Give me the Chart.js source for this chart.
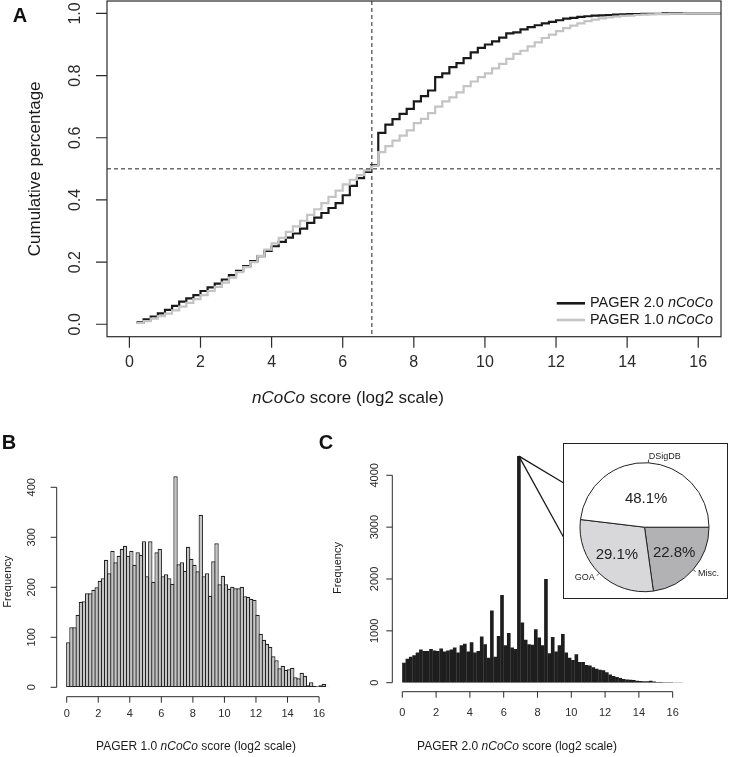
<!DOCTYPE html>
<html>
<head>
<meta charset="utf-8">
<script src="https://cdn.jsdelivr.net/npm/chart.js@4.4.1/dist/chart.umd.min.js"></script>
<style>
  html, body { margin: 0; padding: 0; background: #fff; }
  #wrap { position: relative; width: 729px; height: 757px; overflow: hidden; }
  canvas { position: absolute; }
  #inset { position: absolute; left: 563px; top: 443px; width: 163px; height: 154px; border: 1.5px solid #222; background: #fff; }
  #inset canvas { left: 0; top: 0; }
</style>
</head>
<body>
<div id="wrap">
  <canvas id="chartA" width="729" height="415" style="left:0;top:0"></canvas>
  <canvas id="chartB" width="340" height="342" style="left:0;top:415px"></canvas>
  <canvas id="chartC" width="419" height="342" style="left:310px;top:415px"></canvas>
  <div id="inset"><canvas id="chartPie" width="163" height="154"></canvas></div>
</div>
<script>
// ---- data ----

// panel A: cumulative share, step starts (log2 nCoCo score)
const ecdfX = [0.2,0.4,0.6,0.8,1.0,1.2,1.4,1.6,1.8,2.0,2.2,2.4,2.6,2.8,3.0,3.2,3.4,3.6,3.8,4.0,
  4.2,4.4,4.6,4.8,5.0,5.2,5.4,5.6,5.8,6.0,6.2,6.4,6.6,6.8,7.0,7.2,7.4,7.6,7.8,8.0,
  8.2,8.4,8.6,8.8,9.0,9.2,9.4,9.6,9.8,10.0,10.2,10.4,10.6,10.8,11.0,11.2,11.4,11.6,11.8,12.0,
  12.2,12.4,12.6,12.8,13.0,13.2,13.4,13.6,13.8,14.0,14.2,14.4,14.6,14.8,15.0,15.2,15.4,15.6,15.8,16.0,
  16.2,16.4,17.0];
const pager2Cum = [0.006,0.016,0.025,0.035,0.046,0.059,0.073,0.083,0.094,0.107,
  0.119,0.131,0.144,0.158,0.172,0.187,0.203,0.219,0.236,0.251,
  0.265,0.279,0.292,0.308,0.326,0.343,0.358,0.374,0.39,0.415,
  0.445,0.47,0.49,0.512,0.616,0.642,0.66,0.677,0.693,0.717,
  0.734,0.752,0.795,0.807,0.827,0.84,0.856,0.875,0.889,0.9,
  0.91,0.922,0.936,0.939,0.949,0.956,0.962,0.968,0.973,0.978,
  0.983,0.986,0.989,0.991,0.993,0.994,0.995,0.996,0.997,0.998,
  0.998,0.999,0.999,0.999,1,1,1,1,1,1,
  1,1,1];
const pager1Cum = [0.004,0.01,0.018,0.026,0.034,0.045,0.057,0.069,0.081,0.094,
  0.107,0.12,0.134,0.15,0.168,0.184,0.2,0.22,0.24,0.26,
  0.278,0.297,0.315,0.333,0.352,0.37,0.39,0.41,0.43,0.45,
  0.465,0.48,0.495,0.51,0.554,0.573,0.591,0.607,0.624,0.647,
  0.661,0.679,0.70,0.717,0.73,0.746,0.766,0.781,0.795,0.807,
  0.823,0.838,0.854,0.87,0.88,0.894,0.907,0.921,0.932,0.943,
  0.953,0.961,0.968,0.975,0.98,0.984,0.987,0.99,0.992,0.993,
  0.995,0.996,0.997,0.998,0.998,0.999,0.999,1,1,1,
  1,1,1];
const medianScore = 6.82;
const medianCum = 0.5;
const seriesNames = ['PAGER 2.0', 'PAGER 1.0'];

// panels B and C: histogram bins (left edges), width 0.2
const BIN = 0.2;
const binLeft = [0,0.2,0.4,0.6,0.8,1.0,1.2,1.4,1.6,1.8,2.0,2.2,2.4,2.6,2.8,3.0,3.2,3.4,3.6,3.8,
  4.0,4.2,4.4,4.6,4.8,5.0,5.2,5.4,5.6,5.8,6.0,6.2,6.4,6.6,6.8,7.0,7.2,7.4,7.6,7.8,
  8.0,8.2,8.4,8.6,8.8,9.0,9.2,9.4,9.6,9.8,10.0,10.2,10.4,10.6,10.8,11.0,11.2,11.4,11.6,11.8,
  12.0,12.2,12.4,12.6,12.8,13.0,13.2,13.4,13.6,13.8,14.0,14.2,14.4,14.6,14.8,15.0,15.2,15.4,15.6,15.8,
  16.0,16.2,16.4];
const pager1Hist = [90,120,120,145,171,172,188,188,195,200,
  213,218,255,228,273,250,263,277,283,263,
  273,245,270,265,292,222,292,211,270,277,
  222,226,218,207,422,246,250,233,281,257,
  245,232,345,222,228,183,252,288,206,223,
  206,197,201,198,198,201,182,181,177,175,
  145,107,95,87,81,62,54,38,43,35,
  36,39,20,18,29,23,4,10,3,2,
  4,7,1];
const pager2Hist = [385,460,500,530,580,640,610,610,650,620,
  610,660,600,620,640,680,580,720,750,600,
  780,580,610,890,740,480,1390,500,900,1690,
  720,960,680,650,4370,1160,830,740,730,1030,
  870,720,2000,570,880,600,720,940,580,480,
  440,550,400,400,340,330,300,270,250,240,
  200,160,130,110,90,70,60,55,50,40,
  35,30,30,40,25,15,15,10,10,8,
  5,3,2];

// inset pie for the 6.8-7.0 bin (clockwise from 3 o'clock, as drawn)
const pieLabels = ['Misc.', 'GOA', 'DSigDB'];
const pieShares = [22.8, 29.1, 48.1];

// tick values
const scoreTicks = [0,2,4,6,8,10,12,14,16];
const cumTicks = [0,0.2,0.4,0.6,0.8,1.0];
const freqTicksB = [0,100,200,300,400];
const freqTicksC = [0,1000,2000,3000,4000];

// ---- drawing helpers ----
const FONT = '"Liberation Sans", Arial, Helvetica, sans-serif';
const INK = '#2b2b2b';
Chart.defaults.font.family = FONT;

function drawParts(ctx, parts, x, y, size, align) {
  let w = 0;
  parts.forEach(p => { ctx.font = (p[1] ? 'italic ' : '') + size + 'px ' + FONT; w += ctx.measureText(p[0]).width; });
  let cx = align === 'center' ? x - w / 2 : (align === 'right' ? x - w : x);
  ctx.textAlign = 'left';
  ctx.textBaseline = 'middle';
  parts.forEach(p => {
    ctx.font = (p[1] ? 'italic ' : '') + size + 'px ' + FONT;
    ctx.fillText(p[0], cx, y);
    cx += ctx.measureText(p[0]).width;
  });
}

function drawVertical(ctx, text, x, y, font) {
  ctx.save();
  ctx.translate(x, y);
  ctx.rotate(-Math.PI / 2);
  ctx.font = font;
  ctx.textAlign = 'center';
  ctx.textBaseline = 'middle';
  ctx.fillText(text, 0, 0);
  ctx.restore();
}

// R-style axes: line only between first and last tick, ticks outside
function rAxes(chart, a) {
  const ctx = chart.ctx, xs = chart.scales.x, ys = chart.scales.y;
  ctx.save();
  ctx.strokeStyle = INK;
  ctx.fillStyle = INK;
  ctx.lineWidth = a.lw;
  ctx.beginPath();
  if (a.lines) {
    ctx.moveTo(xs.getPixelForValue(a.xTicks[0]), a.xAxisY);
    ctx.lineTo(xs.getPixelForValue(a.xTicks[a.xTicks.length - 1]), a.xAxisY);
    ctx.moveTo(a.yAxisX, ys.getPixelForValue(a.yTicks[0]));
    ctx.lineTo(a.yAxisX, ys.getPixelForValue(a.yTicks[a.yTicks.length - 1]));
  }
  a.xTicks.forEach(v => {
    const p = xs.getPixelForValue(v);
    ctx.moveTo(p, a.xAxisY);
    ctx.lineTo(p, a.xAxisY + a.tick);
  });
  a.yTicks.forEach(v => {
    const p = ys.getPixelForValue(v);
    ctx.moveTo(a.yAxisX, p);
    ctx.lineTo(a.yAxisX - a.tick, p);
  });
  ctx.stroke();
  const font = a.size + 'px ' + FONT;
  ctx.font = font;
  ctx.textAlign = 'center';
  ctx.textBaseline = 'middle';
  a.xTicks.forEach(v => ctx.fillText(String(v), xs.getPixelForValue(v), a.xLabelY));
  a.yTicks.forEach(v => drawVertical(ctx, a.yFormat(v), a.yLabelX, ys.getPixelForValue(v), font));
  ctx.restore();
}

function panelLetter(ctx, letter, x, y) {
  ctx.save();
  ctx.fillStyle = '#111';
  ctx.font = 'bold 20px ' + FONT;
  ctx.textAlign = 'center';
  ctx.textBaseline = 'middle';
  ctx.fillText(letter, x, y);
  ctx.restore();
}

const baseOptions = {
  responsive: false,
  animation: false,
  devicePixelRatio: 1,
  events: [],
  plugins: { legend: { display: false }, tooltip: { enabled: false } }
};

// ---- panel A ----
const panelA = {
  id: 'panelA',
  afterDraw(chart) {
    const ctx = chart.ctx, area = chart.chartArea, xs = chart.scales.x, ys = chart.scales.y;
    ctx.save();
    // median guides
    ctx.strokeStyle = '#222';
    ctx.lineWidth = 1;
    ctx.setLineDash([4, 3]);
    ctx.beginPath();
    const my = ys.getPixelForValue(medianCum), mx = xs.getPixelForValue(medianScore);
    ctx.moveTo(area.left, my); ctx.lineTo(area.right, my);
    ctx.moveTo(mx, area.top); ctx.lineTo(mx, area.bottom);
    ctx.stroke();
    ctx.setLineDash([]);
    // box
    ctx.strokeStyle = INK;
    ctx.lineWidth = 1.2;
    ctx.strokeRect(area.left, area.top, area.width, area.height);
    ctx.restore();

    rAxes(chart, {
      lines: false, lw: 1.2, tick: 11, size: 16,
      xTicks: scoreTicks, yTicks: cumTicks, yFormat: v => v.toFixed(1),
      xAxisY: area.bottom, yAxisX: area.left, xLabelY: 362.7, yLabelX: 76
    });

    ctx.save();
    ctx.fillStyle = '#1a1a1a';
    drawVertical(ctx, 'Cumulative percentage', 35, (area.top + area.bottom) / 2, '17px ' + FONT);
    drawParts(ctx, [['nCoCo', true], [' score (log2 scale)', false]], 348, 398, 17, 'center');

    // legend
    const ly = [303.3, 320];
    chart.data.datasets.forEach((ds, i) => {
      ctx.strokeStyle = ds.borderColor;
      ctx.lineWidth = 2.6;
      ctx.beginPath();
      ctx.moveTo(556.7, ly[i]); ctx.lineTo(585, ly[i]);
      ctx.stroke();
      ctx.fillStyle = '#1a1a1a';
      drawParts(ctx, [[ds.label + ' ', false], ['nCoCo', true]], 590, ly[i], 14.5, 'left');
    });
    ctx.restore();
    panelLetter(ctx, 'A', 20, 16);
  }
};

new Chart(document.getElementById('chartA'), {
  type: 'line',
  data: {
    datasets: [
      { label: seriesNames[0], data: ecdfX.map((x, i) => ({ x, y: pager2Cum[i] })),
        borderColor: '#1a1a1a', borderWidth: 2.2, stepped: true, pointRadius: 0, order: 1, clip: 0 },
      { label: seriesNames[1], data: ecdfX.map((x, i) => ({ x, y: pager1Cum[i] })),
        borderColor: '#c4c4c4', borderWidth: 2.2, stepped: true, pointRadius: 0, order: 0, clip: 0 }
    ]
  },
  options: Object.assign({}, baseOptions, {
    layout: { padding: { left: 107, top: 1, right: 8, bottom: 78.3 } },
    scales: {
      x: { type: 'linear', display: false, min: -0.63, max: 16.64 },
      y: { type: 'linear', display: false, min: -0.04, max: 1.04 }
    }
  }),
  plugins: [panelA]
});

// ---- panel B ----
const panelB = {
  id: 'panelB',
  afterDraw(chart) {
    const ctx = chart.ctx;
    rAxes(chart, {
      lines: true, lw: 1, tick: 6, size: 11,
      xTicks: scoreTicks, yTicks: freqTicksB, yFormat: v => String(v),
      xAxisY: 281.7, yAxisX: 56.7, xLabelY: 299, yLabelX: 31.7
    });
    ctx.save();
    ctx.fillStyle = '#1a1a1a';
    drawVertical(ctx, 'Frequency', 8, 166.7, '11px ' + FONT);
    drawParts(ctx, [['PAGER 1.0 ', false], ['nCoCo', true], [' score (log2 scale)', false]], 196, 331.7, 12, 'center');
    ctx.restore();
    panelLetter(ctx, 'B', 9, 28);
  }
};

new Chart(document.getElementById('chartB'), {
  type: 'bar',
  data: {
    datasets: [{
      data: binLeft.map((b, i) => ({ x: b + BIN / 2, y: pager1Hist[i] })),
      backgroundColor: '#c4c4c4', borderColor: '#222', borderWidth: 1.2, borderSkipped: false,
      barPercentage: 1.38, categoryPercentage: 1
    }]
  },
  options: Object.assign({}, baseOptions, {
    layout: { padding: { left: 56.7, top: 40, right: 5, bottom: 69.7 } },
    scales: {
      x: { type: 'linear', display: false, offset: false, min: -0.634, max: 17.01 },
      y: { type: 'linear', display: false, min: 0, max: 464.6 }
    }
  }),
  plugins: [panelB]
});

// ---- panel C ----
const panelC = {
  id: 'panelC',
  afterDatasetsDraw(chart) {
    // connectors from the tallest bin to the inset box
    const ctx = chart.ctx;
    const idx = pager2Hist.indexOf(Math.max(...pager2Hist));
    const bar = chart.getDatasetMeta(0).data[idx];
    ctx.save();
    ctx.strokeStyle = '#1a1a1a';
    ctx.lineWidth = 1.3;
    ctx.beginPath();
    ctx.moveTo(bar.x, bar.y); ctx.lineTo(253.3, 67.7);
    ctx.moveTo(bar.x, bar.y); ctx.lineTo(253.3, 121.7);
    ctx.stroke();
    ctx.restore();
  },
  afterDraw(chart) {
    const ctx = chart.ctx;
    rAxes(chart, {
      lines: true, lw: 1, tick: 6, size: 11,
      xTicks: scoreTicks, yTicks: freqTicksC, yFormat: v => String(v),
      xAxisY: 276.7, yAxisX: 82.3, xLabelY: 298.3, yLabelX: 65
    });
    ctx.save();
    ctx.fillStyle = '#1a1a1a';
    drawVertical(ctx, 'Frequency', 28, 153, '11px ' + FONT);
    drawParts(ctx, [['PAGER 2.0 ', false], ['nCoCo', true], [' score (log2 scale)', false]], 207, 331.7, 12, 'center');
    ctx.restore();
    panelLetter(ctx, 'C', 16, 28);
  }
};

new Chart(document.getElementById('chartC'), {
  type: 'bar',
  data: {
    datasets: [{
      data: binLeft.map((b, i) => ({ x: b + BIN / 2, y: pager2Hist[i] })),
      backgroundColor: '#1e1e1e', borderWidth: 0,
      barPercentage: 1.08, categoryPercentage: 1
    }]
  },
  options: Object.assign({}, baseOptions, {
    layout: { padding: { left: 82.3, top: 30, right: 9, bottom: 74.3 } },
    scales: {
      x: { type: 'linear', display: false, offset: false, min: -0.592, max: 18.8 },
      y: { type: 'linear', display: false, min: 0, max: 4584 }
    }
  }),
  plugins: [panelC]
});

// ---- inset pie ----
const pctRadius = [0.61, 0.61, 0.44];
const pieText = {
  id: 'pieText',
  afterDatasetsDraw(chart) {
    const ctx = chart.ctx;
    ctx.save();
    ctx.fillStyle = '#222';
    ctx.strokeStyle = '#222';
    ctx.lineWidth = 0.8;
    chart.getDatasetMeta(0).data.forEach((arc, i) => {
      const p = arc.getProps(['x', 'y', 'startAngle', 'endAngle', 'outerRadius'], true);
      const mid = (p.startAngle + p.endAngle) / 2;
      const c = Math.cos(mid), s = Math.sin(mid), r = p.outerRadius;
      ctx.font = '15px ' + FONT;
      ctx.textAlign = 'center';
      ctx.textBaseline = 'middle';
      ctx.fillText(pieShares[i].toFixed(1) + '%', p.x + c * r * pctRadius[i], p.y + s * r * pctRadius[i]);
      ctx.beginPath();
      ctx.moveTo(p.x + c * r, p.y + s * r);
      ctx.lineTo(p.x + c * r * 1.05, p.y + s * r * 1.05);
      ctx.stroke();
      ctx.font = '9px ' + FONT;
      ctx.textAlign = c >= 0 ? 'left' : 'right';
      ctx.fillText(pieLabels[i], p.x + c * r * 1.1, p.y + s * r * 1.1);
    });
    ctx.restore();
  }
};

new Chart(document.getElementById('chartPie'), {
  type: 'pie',
  data: {
    labels: pieLabels,
    datasets: [{
      data: pieShares,
      backgroundColor: ['#b2b2b4', '#d8d8da', '#ffffff'],
      borderColor: '#222', borderWidth: 1
    }]
  },
  options: Object.assign({}, baseOptions, {
    rotation: 90,
    layout: { padding: { left: 15.5, top: 18.2, right: 17.5, bottom: 5.8 } }
  }),
  plugins: [pieText]
});
</script>
</body>
</html>
